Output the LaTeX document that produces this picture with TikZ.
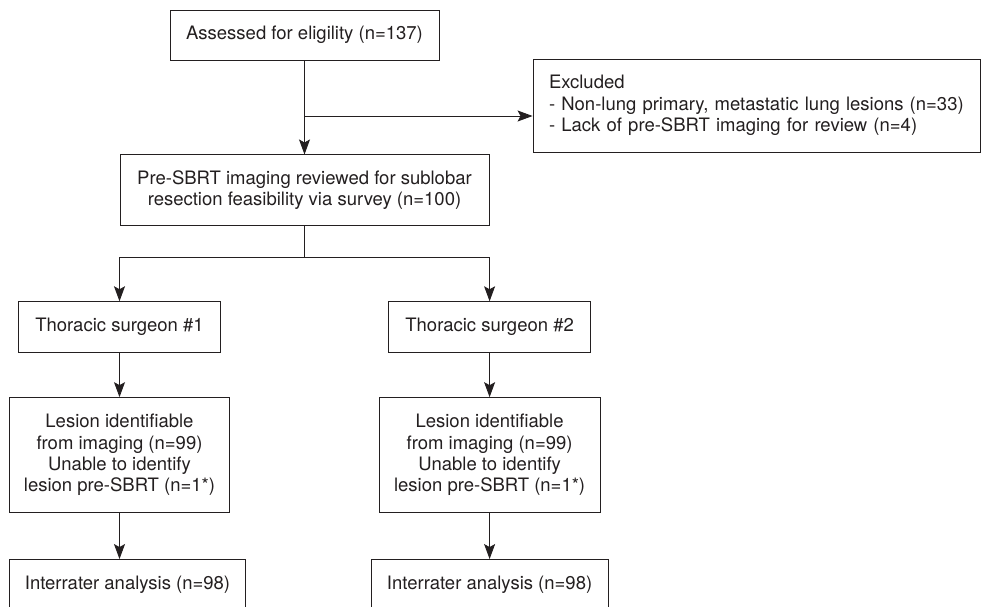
\documentclass[tikz,border=0pt]{standalone}
\usepackage{fontspec}
\setmainfont{TeX Gyre Heros}
\usepackage{xcolor}
\usepackage{tikz}
\usetikzlibrary{arrows.meta,positioning}
\definecolor{FlowLine}{HTML}{231F20}

\begin{document}
\begin{tikzpicture}[
  x=1pt, y=-1pt,
  node distance=45pt,
  box/.style={draw=FlowLine, line width=0.9pt, align=center, inner sep=0pt,
    font=\fontsize{18.5}{21.3}\selectfont, text=FlowLine},
  arrow/.style={-{Stealth[length=15pt, width=11pt, inset=3pt]}, line width=0.9pt, draw=FlowLine},
  link/.style={line width=0.9pt, draw=FlowLine}
]
\clip (0,0) rectangle (982,606);
\node[box, minimum width=269pt, minimum height=50pt] (assess) at (304.5,35) {Assessed for eligility (n=137)};
\node[box, minimum width=447pt, minimum height=93pt, text width=415pt, align=left] (excl) at (756.5,105.5)
  {Excluded\\- Non-lung primary, metastatic lung lesions (n=33)\\- Lack of pre-SBRT imaging for review (n=4)};
\node[box, minimum width=369pt, minimum height=71pt, below=94pt of assess] (review)
  {Pre-SBRT imaging reviewed for sublobar\\resection feasibility via survey (n=100)};
\node[box, minimum width=202.5pt, minimum height=50.6pt] (thor1) at (119.5,327) {Thoracic surgeon \#1};
\node[box, minimum width=202.5pt, minimum height=50.6pt] (thor2) at (489.6,327) {Thoracic surgeon \#2};
\node[box, minimum width=220.7pt, minimum height=115pt, below=44.4pt of thor1] (lesion1)
  {Lesion identifiable\\from imaging (n=99)\\Unable to identify\\lesion pre-SBRT (n=1*)};
\node[box, minimum width=220.7pt, minimum height=115pt, below=44.4pt of thor2] (lesion2)
  {Lesion identifiable\\from imaging (n=99)\\Unable to identify\\lesion pre-SBRT (n=1*)};
\node[box, minimum width=236.7pt, minimum height=50.6pt, below=46pt of lesion1.south west, anchor=north west] (inter1)
  {Interrater analysis (n=98)};
\node[box, minimum width=237pt, minimum height=50.6pt, below=46pt of lesion2] (inter2)
  {Interrater analysis (n=98)};

\coordinate (split0) at (304.5,116);
\coordinate (split1) at (304.5,257);

\draw[arrow] (assess) -- (review);
\draw[arrow] (split0) -- (split0 -| excl.west);
\draw[link] (review) -- (split1);
\draw[arrow] (split1) -| (thor1);
\draw[arrow] (split1) -| (thor2);
\draw[arrow] (thor1) -- (lesion1);
\draw[arrow] (thor2) -- (lesion2);
\draw[arrow] (lesion1.south) -- (lesion1.south |- inter1.north);
\draw[arrow] (lesion2) -- (inter2);
\end{tikzpicture}
\end{document}
